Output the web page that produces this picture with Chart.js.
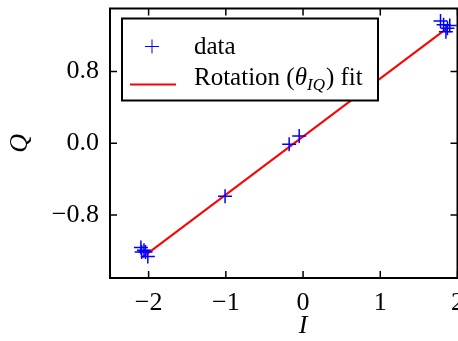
<!DOCTYPE html>
<html>
<head>
<meta charset="utf-8">
<script src="https://cdn.jsdelivr.net/npm/chart.js@4"></script>
<style>
  html, body { margin: 0; padding: 0; background: #fff; overflow: hidden; }
  #wrap { width: 466px; height: 341px; }
</style>
</head>
<body>
<div id="wrap"><canvas id="myChart"></canvas></div>
<script>
// measured I/Q points
const dataI = [1.78, 1.82, 1.87, 1.90, 1.85, -2.10, -2.06, -2.04, -2.01, -2.09, -0.18, -0.05, -1.01];
const dataQ = [1.36, 1.32, 1.28, 1.31, 1.24, -1.16, -1.19, -1.21, -1.26, -1.21, -0.01, 0.08, -0.59];
// rotation fit line ends
const fitI = [-2.08, 1.88];
const fitQ = [-1.27, 1.29];
const xTicks = [-2, -1, 0, 1, 2];
const yTicks = [-0.8, 0.0, 0.8];

const FONT = "'Liberation Serif', serif";

const points = dataI.map((v, i) => ({ x: v, y: dataQ[i] }));
const fitLine = fitI.map((v, i) => ({ x: v, y: fitQ[i] }));

// frame + inward ticks on all four sides, like matplotlib
const frameTicks = {
  id: "frameTicks",
  afterDatasetsDraw(chart) {
    const c = chart.ctx, a = chart.chartArea;
    const xs = chart.scales.x, ys = chart.scales.y;
    c.save();
    c.strokeStyle = "#000";
    c.lineWidth = 1.5;
    xTicks.forEach(t => {
      const px = xs.getPixelForValue(t);
      c.beginPath();
      c.moveTo(px, a.bottom); c.lineTo(px, a.bottom - 7);
      c.moveTo(px, a.top); c.lineTo(px, a.top + 7);
      c.stroke();
    });
    yTicks.forEach(t => {
      const py = ys.getPixelForValue(t);
      c.beginPath();
      c.moveTo(a.left, py); c.lineTo(a.left + 7, py);
      c.moveTo(a.right, py); c.lineTo(a.right - 7, py);
      c.stroke();
    });
    c.lineWidth = 2;
    c.strokeRect(a.left, a.top, a.right - a.left, a.bottom - a.top);

    // x label sits under I = 0 in the original
    c.fillStyle = "#000";
    c.font = "italic 26px " + FONT;
    c.textAlign = "center";
    c.textBaseline = "middle";
    c.fillText("I", xs.getPixelForValue(0), 326);
    c.restore();
  }
};

// legend box inside the axes
const boxLegend = {
  id: "boxLegend",
  afterDraw(chart) {
    const c = chart.ctx, a = chart.chartArea;
    const x0 = a.left + 12, y0 = a.top + 10, w = 256, h = 82;
    c.save();
    c.fillStyle = "#fff";
    c.fillRect(x0, y0, w, h);
    c.strokeStyle = "#000";
    c.lineWidth = 2;
    c.strokeRect(x0, y0, w, h);

    // data marker
    c.strokeStyle = "blue";
    c.lineWidth = 1;
    c.beginPath();
    c.moveTo(x0 + 23, y0 + 28); c.lineTo(x0 + 37, y0 + 28);
    c.moveTo(x0 + 30, y0 + 21); c.lineTo(x0 + 30, y0 + 35);
    c.stroke();
    // fit line sample
    c.strokeStyle = "red";
    c.lineWidth = 2;
    c.beginPath();
    c.moveTo(x0 + 8, y0 + 66); c.lineTo(x0 + 54, y0 + 66);
    c.stroke();

    c.fillStyle = "#000";
    c.textBaseline = "alphabetic";
    c.font = "25px " + FONT;
    const tx = x0 + 72;
    c.fillText("data", tx, y0 + 35);
    let px = tx, base = y0 + 66;
    c.fillText("Rotation (", px, base);
    px += c.measureText("Rotation (").width;
    c.font = "italic 25px " + FONT;
    c.fillText("θ", px, base);
    px += c.measureText("θ").width;
    c.font = "italic 17px " + FONT;
    c.fillText("IQ", px, base + 5);
    px += c.measureText("IQ").width + 1;
    c.font = "25px " + FONT;
    c.fillText(") fit", px, base);
    c.restore();
  }
};

const ctx = document.getElementById("myChart");

new Chart(ctx, {
  type: "scatter",
  data: {
    datasets: [
      {
        label: "data",
        data: points,
        pointStyle: "cross",
        pointRadius: 7,
        pointBorderWidth: 1.5,
        borderColor: "blue",
        backgroundColor: "blue",
        showLine: false,
        order: 1,
      },
      {
        label: "Rotation fit",
        data: fitLine,
        showLine: true,
        pointRadius: 0,
        borderColor: "red",
        borderWidth: 2,
        order: 2,
      },
    ],
  },
  options: {
    responsive: true,
    maintainAspectRatio: false,
    animation: false,
    layout: { padding: { top: 7, right: 0, left: 0, bottom: 0 } },
    plugins: {
      legend: { display: false },
      tooltip: { enabled: false },
    },
    scales: {
      x: {
        type: "linear",
        min: -2.5,
        max: 2.0,
        grid: { display: false, drawTicks: false },
        border: { display: false },
        afterBuildTicks: s => { s.ticks = xTicks.map(v => ({ value: v })); },
        afterFit: s => { s.height = 63; s.paddingLeft = 0; s.paddingRight = 0; },
        ticks: {
          color: "#000",
          padding: 10,
          font: { family: FONT, size: 26 },
          callback: v => (v < 0 ? "\u2212" + Math.abs(v) : String(v)),
        },
        title: { display: false },
      },
      y: {
        type: "linear",
        min: -1.5,
        max: 1.5,
        grid: { display: false, drawTicks: false },
        border: { display: false },
        afterBuildTicks: s => { s.ticks = yTicks.map(v => ({ value: v })); },
        afterFit: s => { s.width = 110; s.paddingTop = 0; s.paddingBottom = 0; },
        ticks: {
          color: "#000",
          padding: 11,
          font: { family: FONT, size: 26 },
          callback: v => (v < 0 ? "\u2212" + Math.abs(v).toFixed(1) : v.toFixed(1)),
        },
        title: {
          display: true,
          text: "Q",
          color: "#000",
          padding: { top: 5, bottom: 0 },
          font: { family: FONT, size: 26, style: "italic" },
        },
      },
    },
  },
  plugins: [frameTicks, boxLegend],
});
</script>
</body>
</html>
